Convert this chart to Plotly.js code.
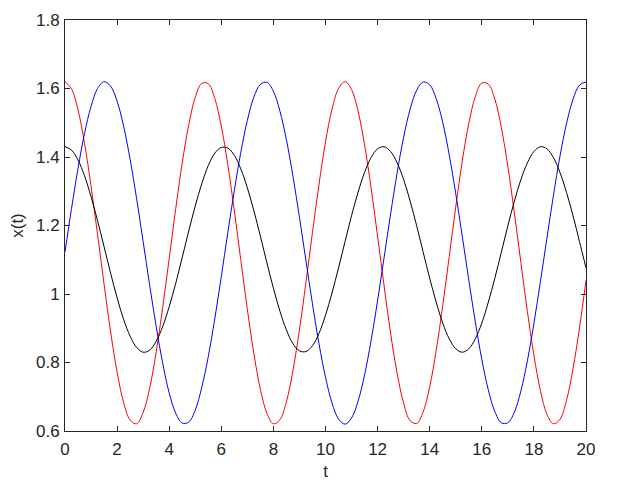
<!DOCTYPE html>
<html>
<head>
<meta charset="utf-8">
<script src="https://cdn.plot.ly/plotly-3.0.1.min.js"></script>
<style>
  html, body { margin: 0; padding: 0; background: #fff; }
  #plot { width: 619px; height: 484px; }
</style>
</head>
<body>
<div id="plot"></div>
<script>
// time samples, step 0.25
const t = [
    0, 0.25, 0.5, 0.75, 1, 1.25, 1.5, 1.75, 2, 2.25, 2.5, 2.75, 3, 3.25, 3.5, 3.75,
    4, 4.25, 4.5, 4.75, 5, 5.25, 5.5, 5.75, 6, 6.25, 6.5, 6.75, 7, 7.25, 7.5, 7.75,
    8, 8.25, 8.5, 8.75, 9, 9.25, 9.5, 9.75, 10, 10.25, 10.5, 10.75, 11, 11.25, 11.5, 11.75,
    12, 12.25, 12.5, 12.75, 13, 13.25, 13.5, 13.75, 14, 14.25, 14.5, 14.75, 15, 15.25, 15.5, 15.75,
    16, 16.25, 16.5, 16.75, 17, 17.25, 17.5, 17.75, 18, 18.25, 18.5, 18.75, 19, 19.25, 19.5, 19.75,
    20
];

// red curve
const xRed = [
    1.620, 1.599, 1.537, 1.440, 1.315, 1.174, 1.028, 0.890, 0.772, 0.683, 0.632, 0.621, 0.654, 0.725, 0.831, 0.961,
    1.104, 1.249, 1.383, 1.494, 1.574, 1.615, 1.614, 1.571, 1.490, 1.378, 1.243, 1.098, 0.955, 0.826, 0.722, 0.652,
    0.621, 0.633, 0.686, 0.776, 0.896, 1.034, 1.180, 1.320, 1.444, 1.540, 1.600, 1.620, 1.597, 1.534, 1.435, 1.310,
    1.168, 1.023, 0.885, 0.768, 0.681, 0.630, 0.622, 0.656, 0.729, 0.836, 0.966, 1.110, 1.254, 1.388, 1.498, 1.576,
    1.616, 1.613, 1.569, 1.486, 1.372, 1.237, 1.092, 0.949, 0.821, 0.718, 0.649, 0.621, 0.634, 0.689, 0.781, 0.901,
    1.040
];

// blue curve
const xBlue = [
    1.123, 1.249, 1.367, 1.469, 1.548, 1.600, 1.620, 1.607, 1.563, 1.490, 1.393, 1.278, 1.153, 1.026, 0.905, 0.798,
    0.711, 0.652, 0.623, 0.626, 0.661, 0.727, 0.817, 0.928, 1.051, 1.179, 1.302, 1.414, 1.507, 1.575, 1.612, 1.618,
    1.592, 1.534, 1.450, 1.344, 1.224, 1.097, 0.971, 0.855, 0.757, 0.682, 0.635, 0.620, 0.638, 0.687, 0.764, 0.864,
    0.981, 1.107, 1.234, 1.354, 1.458, 1.540, 1.595, 1.619, 1.611, 1.570, 1.501, 1.406, 1.293, 1.169, 1.041, 0.919,
    0.809, 0.720, 0.657, 0.624, 0.624, 0.655, 0.717, 0.805, 0.914, 1.036, 1.163, 1.288, 1.402, 1.497, 1.568, 1.610,
    1.619
];

// black curve
const xBlack = [
    1.430, 1.420, 1.391, 1.345, 1.284, 1.214, 1.138, 1.061, 0.989, 0.926, 0.877, 0.844, 0.830, 0.836, 0.862, 0.905,
    0.963, 1.031, 1.107, 1.184, 1.257, 1.322, 1.375, 1.411, 1.428, 1.426, 1.405, 1.365, 1.310, 1.243, 1.169, 1.091,
    1.017, 0.950, 0.895, 0.855, 0.834, 0.832, 0.849, 0.885, 0.938, 1.003, 1.076, 1.153, 1.229, 1.297, 1.355, 1.398,
    1.424, 1.430, 1.416, 1.383, 1.334, 1.271, 1.199, 1.122, 1.046, 0.976, 0.915, 0.869, 0.840, 0.830, 0.840, 0.869,
    0.915, 0.976, 1.046, 1.122, 1.199, 1.271, 1.334, 1.383, 1.416, 1.430, 1.424, 1.398, 1.355, 1.297, 1.229, 1.153,
    1.076
];

const xTicks = [0, 2, 4, 6, 8, 10, 12, 14, 16, 18, 20];
const yTicks = [0.6, 0.8, 1, 1.2, 1.4, 1.6, 1.8];
const yTickText = ['0.6', '0.8', '1', '1.2', '1.4', '1.6', '1.8'];

const series = [
    { y: xRed, color: '#ff0000' },
    { y: xBlue, color: '#0000ff' },
    { y: xBlack, color: '#000000' }
];

const traces = series.map(s => ({
    x: t,
    y: s.y,
    type: 'scatter',
    mode: 'lines',
    line: { color: s.color, width: 1, shape: 'spline', smoothing: 1 },
    showlegend: false,
    hoverinfo: 'x+y'
}));

const axisStyle = {
    showline: true,
    linecolor: '#262626',
    linewidth: 1,
    mirror: 'ticks',
    ticks: 'inside',
    ticklen: 5,
    tickwidth: 1,
    tickcolor: '#262626',
    showgrid: false,
    zeroline: false,
    tickfont: { size: 17, color: '#262626' }
};

const layout = {
    width: 619,
    height: 484,
    margin: { l: 65, r: 33, t: 20, b: 53 },
    paper_bgcolor: '#ffffff',
    plot_bgcolor: '#ffffff',
    font: { family: '"Liberation Sans", Arial, sans-serif', size: 17, color: '#262626' },
    xaxis: Object.assign({}, axisStyle, {
        range: [0, 20],
        tickvals: xTicks,
        ticklabelstandoff: 3,
        title: { text: 't', font: { size: 17 }, standoff: 6 }
    }),
    yaxis: Object.assign({}, axisStyle, {
        range: [0.6, 1.8],
        tickvals: yTicks,
        ticktext: yTickText,
        ticklabelstandoff: 1,
        title: { text: 'x(t)', font: { size: 17 }, standoff: 8 }
    })
};

Plotly.newPlot('plot', traces, layout, { displayModeBar: false, staticPlot: true });
</script>
</body>
</html>
